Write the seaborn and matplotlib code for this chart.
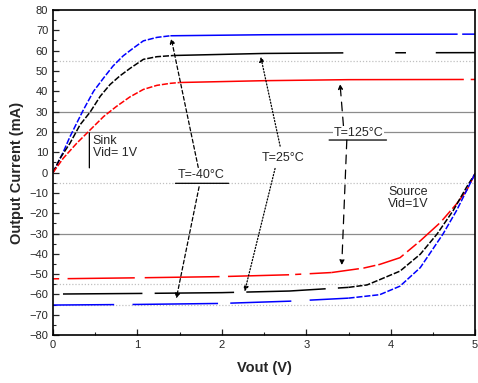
import matplotlib
matplotlib.use("Agg")
import matplotlib.pyplot as plt
import seaborn as sns
import pandas as pd
from matplotlib.ticker import MultipleLocator

sns.set_style("ticks")
plt.rcParams['font.family'] = ['Liberation Sans', 'DejaVu Sans']

# ---- data ----
# sink (Vid = 1V): rising part and saturated part
v_sink_blue_rise = [0, 0.044, 0.122, 0.20, 0.28, 0.36, 0.48, 0.60, 0.71, 0.83, 0.95, 1.07, 1.23, 1.39]
i_sink_blue_rise = [0, 3.6, 10.2, 17.6, 24.3, 30.9, 40.0, 46.6, 52.4, 57.4, 61.2, 64.8, 66.5, 67.3]
v_sink_blue_flat = [1.39, 2.5, 3.5, 5.0]
i_sink_blue_flat = [67.3, 67.8, 68.0, 68.1]

v_sink_black_rise = [0, 0.083, 0.20, 0.32, 0.44, 0.56, 0.675, 0.79, 0.91, 1.07, 1.23, 1.43]
i_sink_black_rise = [0, 7.0, 14.4, 23.5, 29.8, 37.6, 43.3, 47.5, 51.2, 55.7, 57.0, 57.6]
v_sink_black_flat = [1.43, 2.5, 3.5, 5.0]
i_sink_black_flat = [57.6, 58.6, 58.9, 59.0]

v_sink_red_rise = [0, 0.12, 0.28, 0.44, 0.60, 0.75, 0.91, 1.07, 1.23, 1.39, 1.5]
i_sink_red_rise = [0, 7.0, 14.4, 21.0, 27.6, 32.5, 37.2, 40.9, 42.9, 43.9, 44.3]
v_sink_red_flat = [1.5, 2.5, 3.5, 5.0]
i_sink_red_flat = [44.3, 45.2, 45.7, 45.8]

# source (Vid = -1V): saturated part and rising part
v_src_red_flat = [0, 1.0, 2.0, 2.8, 3.3]
i_src_red_flat = [-52.3, -51.8, -51.2, -50.3, -49.2]
v_src_red_rise = [3.3, 3.68, 3.87, 4.11, 4.35, 4.59, 4.78, 4.90, 5.0]
i_src_red_rise = [-49.2, -47.0, -45.2, -41.9, -33.6, -24.5, -15.4, -8.8, -0.5]

v_src_black_flat = [0, 1.0, 2.0, 2.8, 3.5]
i_src_black_flat = [-59.8, -59.5, -59.1, -58.3, -56.5]
v_src_black_rise = [3.5, 3.72, 3.87, 4.11, 4.35, 4.55, 4.74, 4.90, 5.0]
i_src_black_rise = [-56.5, -55.3, -52.7, -48.5, -40.2, -30.2, -18.7, -7.1, -0.5]

v_src_blue_flat = [0, 1.0, 2.0, 2.8, 3.5]
i_src_blue_flat = [-65.2, -64.9, -64.4, -63.3, -61.8]
v_src_blue_rise = [3.5, 3.87, 4.11, 4.35, 4.62, 4.78, 4.92, 5.0]
i_src_blue_rise = [-61.8, -60.1, -55.9, -46.8, -30.2, -18.7, -7.1, -0.5]

solid_grid = [30, 20, -30]
dotted_grid = [55, -5, -55, -65]

x_ticks = [0, 1, 2, 3, 4, 5]
y_ticks = list(range(-80, 81, 10))

fig = plt.figure(figsize=(4.78, 3.83), dpi=100)
ax = fig.add_axes([0.111, 0.125, 0.883, 0.849])

for y in solid_grid:
    ax.axhline(y, color='#8c8c8c', lw=0.9, zorder=0)
for y in dotted_grid:
    ax.axhline(y, color='#c0c0c0', lw=0.9, ls=(0, (1, 1.5)), zorder=0)

fine = (0, (4, 1.2))
BLUE, BLACK, RED = '#0000ff', '#000000', '#ff0000'
segments = [
    (v_sink_blue_rise, i_sink_blue_rise, BLUE, fine),
    (v_sink_blue_flat, i_sink_blue_flat, BLUE, (0, (188, 3, 20, 3))),
    (v_sink_black_rise, i_sink_black_rise, BLACK, fine),
    (v_sink_black_flat, i_sink_black_flat, BLACK, (0, (111, 34, 7, 19.5, 100, 4))),
    (v_sink_red_rise, i_sink_red_rise, RED, fine),
    (v_sink_red_flat, i_sink_red_flat, RED, (0, (186, 4.5, 20, 4))),
    (v_src_red_flat, i_src_red_flat, RED, (0, (4, 5.5, 44, 6.5, 49, 5.5, 40, 4))),
    (v_src_red_rise, i_src_red_rise, RED, (0, (18, 3, 8, 2))),
    (v_src_black_flat, i_src_black_flat, BLACK, (53.5, (52, 8))),
    (v_src_black_rise, i_src_black_rise, BLACK, fine),
    (v_src_blue_flat, i_src_blue_flat, BLUE, (0, (40, 12, 56, 8))),
    (v_src_blue_rise, i_src_blue_rise, BLUE, fine),
]
for vx, iy, col, style in segments:
    df = pd.DataFrame({'V': vx, 'I': iy})
    sns.lineplot(data=df, x='V', y='I', ax=ax, color=col, lw=1.1, sort=False,
                 estimator=None)
    ax.lines[-1].set_linestyle(style)

ax.set_xlim(0, 5)
ax.set_ylim(-80, 80)
ax.set_xticks(x_ticks)
ax.set_yticks(y_ticks)
ax.xaxis.set_minor_locator(MultipleLocator(0.5))
ax.yaxis.set_minor_locator(MultipleLocator(5))
ax.tick_params(which='both', direction='in', labelsize=8, top=False, right=False)
ax.tick_params(which='major', length=4, width=0.9)
ax.tick_params(which='minor', length=2, width=0.8)
for s in ax.spines.values():
    s.set_visible(True)
    s.set_linewidth(1.2)
    s.set_color('black')

ax.set_xlabel('Vout (V)', fontsize=10.5, fontweight='bold', labelpad=8)
ax.set_ylabel('Output Current (mA)', fontsize=10.5, fontweight='bold', labelpad=4)

# annotations
arr_dash = dict(arrowstyle='-|>', color='black', lw=0.9, ls=(0, (3, 2)),
                mutation_scale=7, shrinkA=0, shrinkB=0)
arr_dot = dict(arrowstyle='-|>', color='black', lw=0.9, ls=(0, (1, 1.5)),
               mutation_scale=7, shrinkA=0, shrinkB=0)
arr_long = dict(arrowstyle='-|>', color='black', lw=0.9, ls=(0, (7, 5)),
                mutation_scale=7, shrinkA=0, shrinkB=0)
plain = dict(arrowstyle='-', color='black', lw=0.9, shrinkA=0, shrinkB=0)

ax.annotate('', xy=(1.40, 66), xytext=(1.72, 2.5), arrowprops=arr_dash)
ax.annotate('', xy=(1.46, -62), xytext=(1.73, -7), arrowprops=arr_dash)
ax.annotate('', xy=(2.46, 57), xytext=(2.69, 13), arrowprops=arr_dot)
ax.annotate('', xy=(2.27, -58.5), xytext=(2.63, 2), arrowprops=arr_dot)
ax.annotate('', xy=(3.40, 43.5), xytext=(3.44, 23), arrowprops=arr_long)
ax.annotate('', xy=(3.42, -45.5), xytext=(3.48, 16), arrowprops=arr_long)

ax.text(1.76, -1.3, 'T=-40°C', ha='center', va='center', fontsize=9,
        bbox=dict(fc='white', ec='none', pad=0.5))
ax.annotate('', xy=(1.45, -5.3), xytext=(2.08, -5.3), arrowprops=plain)
ax.text(2.73, 7.3, 'T=25°C', ha='center', va='center', fontsize=9,
        bbox=dict(fc='white', ec='none', pad=0.5))
ax.text(3.62, 19.7, 'T=125°C', ha='center', va='center', fontsize=9,
        bbox=dict(fc='white', ec='none', pad=0.5))
ax.annotate('', xy=(3.27, 16), xytext=(3.95, 16), arrowprops=plain)

ax.text(0.47, 18.5, 'Sink\nVid= 1V', ha='left', va='top', fontsize=9, linespacing=1.05)
ax.annotate('', xy=(0.43, 19.5), xytext=(0.43, 2.3), arrowprops=plain)
ax.text(3.97, -6.5, 'Source\nVid=1V', ha='left', va='top', fontsize=9, linespacing=1.05)

fig.savefig('out.png', dpi=100)
